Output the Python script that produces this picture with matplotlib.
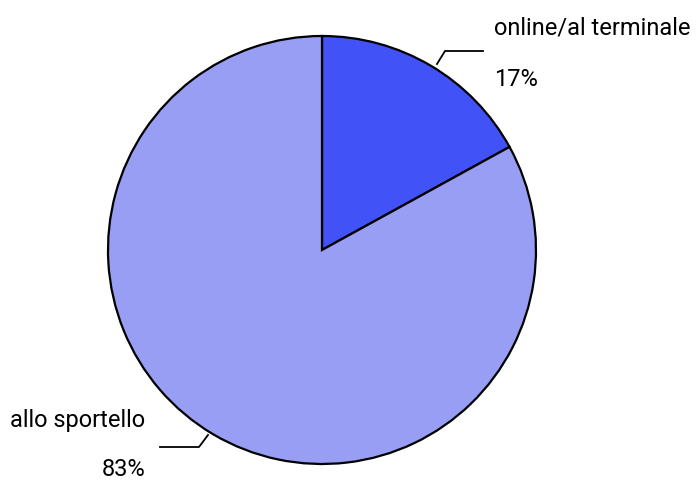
import matplotlib.pyplot as plt
import numpy as np

labels = ["online/al terminale", "allo sportello"]
shares = [17, 83]
colors = ["#4152f7", "#979ef3"]

plt.rcParams['font.family'] = ['Liberation Sans Narrow', 'Roboto', 'DejaVu Sans']

fig = plt.figure(figsize=(6.99, 4.85), dpi=100)
ax = fig.add_axes([0, 0, 1, 1])

# pixel-like coordinates, y measured from the bottom
W, H = 699, 485
cx, cy, r = 322, H - 251, 214

ax.pie(shares, colors=colors, startangle=90, counterclock=False,
       center=(cx, cy), radius=r, frame=True,
       wedgeprops=dict(edgecolor="black", linewidth=1.6))

# leader lines
ax.plot([437, 445, 483], [H - 65, H - 52, H - 52], color="black", lw=1.3)
ax.plot([208, 199, 160], [H - 436, H - 448, H - 448], color="black", lw=1.3)

ax.text(494, H - 28, labels[0], fontsize=17, va="center", ha="left")
ax.text(494, H - 80, "%d%%" % shares[0], fontsize=17, va="center", ha="left")
ax.text(10, H - 421, labels[1], fontsize=17, va="center", ha="left")
ax.text(124, H - 470, "%d%%" % shares[1], fontsize=17, va="center", ha="center")

ax.set_xlim(0, W)
ax.set_ylim(0, H)
ax.set_aspect("equal")
ax.axis("off")

fig.savefig("out.png", dpi=100)
